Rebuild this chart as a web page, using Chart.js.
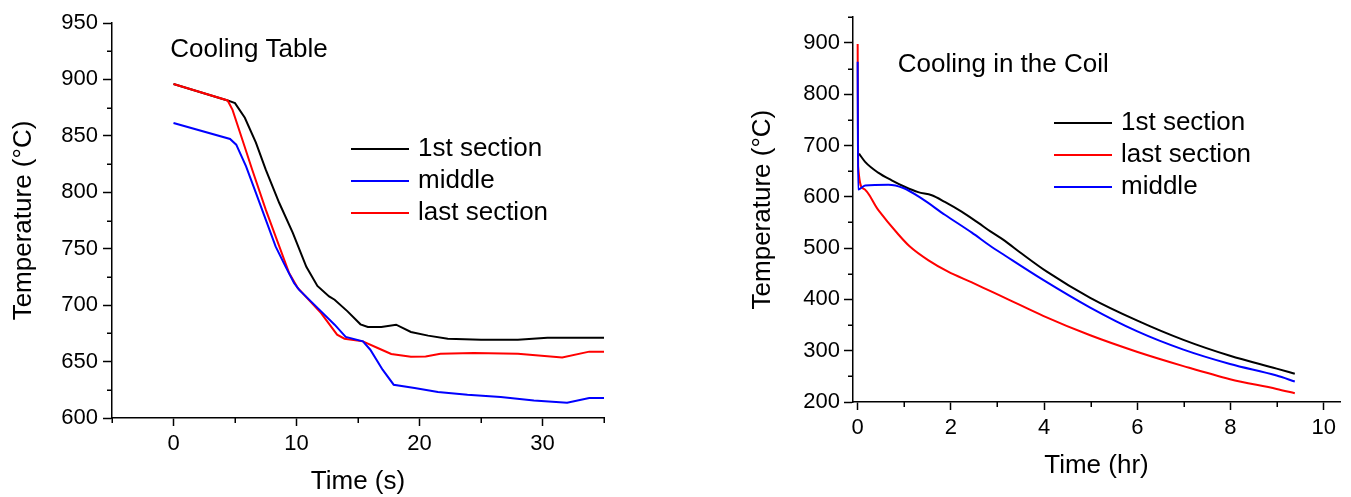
<!DOCTYPE html>
<html><head><meta charset="utf-8">
<script src="https://cdn.jsdelivr.net/npm/chart.js@4.4.1/dist/chart.umd.min.js"></script>
<style>
html,body{margin:0;padding:0;background:#fff;overflow:hidden}
#wrap{position:relative;width:1351px;height:497px;background:#fff}
canvas{position:absolute;top:0}
#c1{left:0}
#c2{left:676px}
</style></head><body>
<div id="wrap"><canvas id="c1" width="676" height="497" style="width:676px;height:497px"></canvas><canvas id="c2" width="675" height="497" style="width:675px;height:497px"></canvas></div>
<script>
// ---------- Left chart: Cooling Table ----------
const tableTitle = "Cooling Table";
const tableXLabel = "Time (s)";
const tableYLabel = "Temperature (°C)";
const tableFirstTime = [0, 4.4, 5.0, 5.8, 6.7, 7.5, 8.6, 9.7, 10.8, 11.7, 12.65, 13.1, 14.15, 15.2, 15.8, 16.9, 18.1, 19.3, 20.7, 22.3, 25.0, 28.0, 30.4, 35];
const tableFirstTemp = [896, 881.4, 879, 866, 844, 820, 790.5, 764, 734, 717, 707.7, 704.8, 694.5, 683, 680.6, 680.6, 682.7, 676.2, 673, 670.3, 669.4, 669.4, 671, 671];
const tableMiddleTime = [0, 4.6, 5.1, 5.9, 6.7, 7.5, 8.3, 9.1, 9.8, 10.2, 12.0, 13.1, 14.0, 15.4, 16.0, 17.0, 17.9, 19.6, 21.5, 23.9, 26.6, 29.3, 32.0, 33.8, 35];
const tableMiddleTemp = [861.4, 847.2, 842.2, 823, 799.4, 775.7, 752, 734.3, 719.6, 713.7, 694.5, 682.7, 671.8, 667.9, 660.5, 642.8, 629.5, 626.6, 623, 620.6, 618.6, 615.6, 613.6, 617.7, 617.7];
const tableLastTime = [0, 4.4, 4.8, 5.6, 6.4, 7.5, 8.6, 9.4, 10.1, 12.0, 13.3, 13.9, 15.4, 16.6, 17.7, 19.3, 20.5, 21.7, 24.4, 28.0, 31.6, 33.8, 35];
const tableLastTemp = [896, 881.4, 873, 846.6, 820, 784.6, 752, 728.5, 715.2, 693, 673.8, 670.3, 667.9, 662, 656.7, 654.3, 654.6, 657, 657.6, 657, 653.7, 658.8, 658.8];
const tableXTicks = [0, 10, 20, 30];
const tableXMinor = [-5, 5, 15, 25, 35];
const tableYTicks = [600, 650, 700, 750, 800, 850, 900, 950];
const tableYMinor = [625, 675, 725, 775, 825, 875, 925];

// ---------- Right chart: Cooling in the Coil ----------
const coilTitle = "Cooling in the Coil";
const coilXLabel = "Time (hr)";
const coilYLabel = "Temperature (°C)";
const coilFirstTime = [0.03, 0.16, 0.44, 0.73, 1.02, 1.3, 1.59, 1.87, 2.23, 2.59, 2.84, 3.16, 3.48, 4.06, 4.99, 5.99, 6.99, 7.99, 8.99, 9.38];
const coilFirstTemp = [684, 668, 647, 632, 619, 609, 603, 590, 571, 549, 533, 514, 492, 454, 403, 359, 321, 290, 265, 255];
const coilLastTime = [0, 0.01, 0.12, 0.44, 0.87, 1.12, 1.52, 1.94, 2.45, 2.84, 3.16, 3.98, 4.99, 5.99, 6.99, 7.99, 8.99, 9.38];
const coilLastTemp = [898, 660, 616, 574.5, 527, 503, 476, 454, 433, 416.5, 403, 368, 330, 298, 270, 244.5, 225.5, 217];
const coilMiddleTime = [0, 0.01, 0.16, 0.66, 0.98, 1.37, 1.87, 2.45, 2.84, 3.16, 3.98, 4.99, 5.99, 6.99, 7.99, 8.99, 9.38];
const coilMiddleTemp = [863, 614, 622, 623.4, 617, 596.7, 565, 530, 504.6, 485.6, 438, 384, 338, 302, 274, 251.5, 240];
const coilXTicks = [0, 2, 4, 6, 8, 10];
const coilXMinor = [1, 3, 5, 7, 9];
const coilYTicks = [200, 300, 400, 500, 600, 700, 800, 900];
const coilYMinor = [250, 350, 450, 550, 650, 750, 850, 950];

const FONT = "'Liberation Sans', Arial, Helvetica, sans-serif";
Chart.defaults.font.family = FONT;
Chart.defaults.color = '#000';

function pts(xs, ys) { return xs.map((x, i) => ({x: x, y: ys[i]})); }

const extrasPlugin = {
  id: 'extras',
  afterDraw(chart) {
    const o = chart.options.plugins.extras;
    const ctx = chart.ctx;
    const xs = chart.scales.x, ys = chart.scales.y;
    const area = chart.chartArea;
    ctx.save();
    // minor ticks
    ctx.strokeStyle = '#000';
    ctx.lineWidth = 1.5;
    ctx.beginPath();
    o.xMinor.forEach(v => {
      const px = Math.round(xs.getPixelForValue(v)) + 0.25;
      ctx.moveTo(px, area.bottom);
      ctx.lineTo(px, area.bottom + o.minorLen);
    });
    o.yMinor.forEach(v => {
      const py = Math.round(ys.getPixelForValue(v)) + 0.25;
      ctx.moveTo(area.left, py);
      ctx.lineTo(area.left - o.minorLen, py);
    });
    ctx.stroke();
    // annotation title
    ctx.fillStyle = '#000';
    ctx.font = '26px ' + FONT;
    ctx.textAlign = 'left';
    ctx.textBaseline = 'middle';
    ctx.fillText(o.title, xs.getPixelForValue(o.titleX), ys.getPixelForValue(o.titleY));
    // legend
    const L = o.legend;
    L.order.forEach((di, k) => {
      const ds = chart.data.datasets[di];
      const y = L.y + k * L.dy;
      ctx.strokeStyle = ds.borderColor;
      ctx.lineWidth = 2;
      ctx.beginPath();
      ctx.moveTo(L.x, y);
      ctx.lineTo(L.x + L.len, y);
      ctx.stroke();
      ctx.fillStyle = '#000';
      ctx.fillText(ds.label, L.x + L.len + L.gap, y);
    });
    ctx.restore();
  }
};

function makeChart(id, cfg) {
  const yWidth = cfg.yWidth, xHeight = cfg.xHeight;
  return new Chart(document.getElementById(id), {
    type: 'line',
    data: { datasets: cfg.datasets },
    options: {
      responsive: false,
      animation: false,
      events: [],
      layout: { padding: cfg.padding },
      elements: { point: { radius: 0 }, line: { borderWidth: 2, tension: 0 } },
      plugins: {
        legend: { display: false },
        tooltip: { enabled: false },
        extras: cfg.extras
      },
      scales: {
        x: {
          type: 'linear',
          min: cfg.xMin, max: cfg.xMax,
          afterBuildTicks: s => { s.ticks = cfg.xTicks.map(v => ({value: v})); },
          afterFit: s => { s.height = xHeight; },
          grid: { display: true, drawOnChartArea: false, drawTicks: true, tickLength: 8, tickWidth: 1.5, tickColor: '#000' },
          border: { display: true, color: '#000', width: 1.5 },
          ticks: { font: { size: 22 }, color: '#000', padding: 5, maxRotation: 0, autoSkip: false, callback: v => String(v) },
          title: { display: true, text: cfg.xLabel, font: { size: 26, lineHeight: 1.2 }, color: '#000', padding: { top: 0, bottom: cfg.xTitlePad } }
        },
        y: {
          type: 'linear',
          min: cfg.yMin, max: cfg.yMax,
          afterBuildTicks: s => { s.ticks = cfg.yTicks.map(v => ({value: v})); },
          afterFit: s => { s.width = yWidth; },
          grid: { display: true, drawOnChartArea: false, drawTicks: true, tickLength: 9, tickWidth: 1.5, tickColor: '#000' },
          border: { display: true, color: '#000', width: 1.5 },
          ticks: { font: { size: 22 }, color: '#000', padding: cfg.yTickPad, autoSkip: false, callback: v => String(v) },
          title: { display: true, text: cfg.yLabel, font: { size: 26, lineHeight: 1.2 }, color: '#000', padding: { top: cfg.yTitlePad, bottom: 0 } }
        }
      }
    },
    plugins: [extrasPlugin]
  });
}

makeChart('c1', {
  datasets: [
    { label: '1st section', data: pts(tableFirstTime, tableFirstTemp), borderColor: '#000000', order: 2 },
    { label: 'middle', data: pts(tableMiddleTime, tableMiddleTemp), borderColor: '#0000ff', order: 0 },
    { label: 'last section', data: pts(tableLastTime, tableLastTemp), borderColor: '#ff0000', order: 1 }
  ],
  padding: { left: 0, top: 23, right: 72, bottom: 0 },
  yWidth: 112, xHeight: 79,
  xMin: -5, xMax: 35, yMin: 600, yMax: 950,
  xTicks: tableXTicks, yTicks: tableYTicks,
  xLabel: tableXLabel, yLabel: tableYLabel,
  xTitlePad: 0, yTitlePad: 8, yTickPad: 5,
  extras: {
    xMinor: tableXMinor, yMinor: tableYMinor, minorLen: 5,
    title: tableTitle, titleX: -0.27, titleY: 926,
    legend: { x: 351, y: 149, dy: 32, len: 58, gap: 9, order: [0, 1, 2] }
  }
});

makeChart('c2', {
  datasets: [
    { label: '1st section', data: pts(coilFirstTime, coilFirstTemp), borderColor: '#000000', order: 2, cubicInterpolationMode: 'monotone' },
    { label: 'last section', data: pts(coilLastTime, coilLastTemp), borderColor: '#ff0000', order: 1, cubicInterpolationMode: 'monotone' },
    { label: 'middle', data: pts(coilMiddleTime, coilMiddleTemp), borderColor: '#0000ff', order: 0, cubicInterpolationMode: 'monotone' }
  ],
  padding: { left: 0, top: 7, right: 11, bottom: 0 },
  yWidth: 177, xHeight: 95,
  xMin: -0.1, xMax: 10.35, yMin: 200, yMax: 950,
  xTicks: coilXTicks, yTicks: coilYTicks,
  xLabel: coilXLabel, yLabel: coilYLabel,
  xTitlePad: 16, yTitlePad: 71, yTickPad: 4,
  extras: {
    xMinor: coilXMinor, yMinor: coilYMinor, minorLen: 5,
    title: coilTitle, titleX: 0.86, titleY: 857,
    legend: { x: 378, y: 123, dy: 32, len: 58, gap: 9, order: [0, 1, 2] }
  }
});
</script>
</body></html>
